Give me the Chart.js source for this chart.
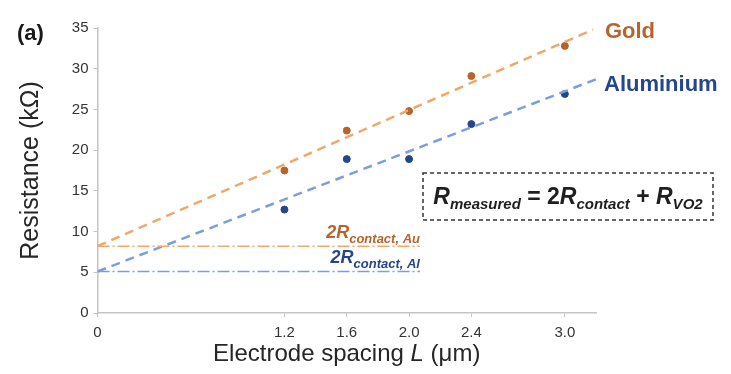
<!DOCTYPE html>
<html>
<head>
<meta charset="utf-8">
<script src="https://cdn.jsdelivr.net/npm/chart.js@4.4.1/dist/chart.umd.min.js"></script>
<style>
    html, body { margin: 0; padding: 0; background: #fff; }
</style>
</head>
<body>
<canvas id="graficoResistencia" width="731" height="374"></canvas>
<script>
// valores
const spacing = [1.2, 1.6, 2.0, 2.4, 3.0];
const goldValues = [17.5, 22.4, 24.8, 29.1, 32.8];
const aluminiumValues = [12.7, 18.9, 18.9, 23.2, 26.9];

// retas de ajuste (início e fim)
const goldFitX = [0, 3.18];
const goldFitY = [8.2, 34.8];
const aluminiumFitX = [0, 3.2];
const aluminiumFitY = [5.1, 28.7];

// 2R contact
const contactX = [0, 2.07];
const contactAu = [8.2, 8.2];
const contactAl = [5.1, 5.1];

const xTicks = [0, 1.2, 1.6, 2.0, 2.4, 3.0];
const xTickLabels = ['0', '1.2', '1.6', '2.0', '2.4', '3.0'];

const FONT = "'Liberation Sans', Arial, sans-serif";
const GOLD_DARK = '#b8632c';
const GOLD_LIGHT = '#f2a76a';
const AL_DARK = '#25468c';
const AL_LIGHT = '#7a9fe0';

function toPoints(xs, ys) {
    return xs.map((x, i) => ({ x: x, y: ys[i] }));
}

function drawRich(ctx, x, y, parts, align) {
    let total = 0;
    parts.forEach(p => {
        ctx.font = p.f;
        total += ctx.measureText(p.t).width;
    });
    let cx = x;
    if (align === 'right') cx = x - total;
    if (align === 'center') cx = x - total / 2;
    ctx.textAlign = 'left';
    ctx.textBaseline = 'alphabetic';
    parts.forEach(p => {
        ctx.font = p.f;
        ctx.fillText(p.t, cx, y + (p.dy || 0));
        cx += ctx.measureText(p.t).width;
    });
}

const anotacoes = {
    id: 'anotacoes',
    afterDraw(chart) {
        const ctx = chart.ctx;
        const xs = chart.scales.x;
        const ys = chart.scales.y;
        const area = chart.chartArea;
        ctx.save();

        // (a)
        ctx.fillStyle = '#1a1a1a';
        ctx.font = 'bold 22px ' + FONT;
        ctx.textAlign = 'left';
        ctx.fillText('(a)', 17, 40);

        // nomes das séries
        ctx.font = 'bold 22px ' + FONT;
        ctx.fillStyle = GOLD_DARK;
        ctx.fillText('Gold', xs.getPixelForValue(goldFitX[1]) + 12, ys.getPixelForValue(goldFitY[1]) + 8);
        ctx.fillStyle = AL_DARK;
        ctx.fillText('Aluminium', xs.getPixelForValue(aluminiumFitX[1]) + 8, ys.getPixelForValue(aluminiumFitY[1]) + 12);

        // 2R contact
        const endX = xs.getPixelForValue(contactX[1]);
        ctx.fillStyle = GOLD_DARK;
        drawRich(ctx, endX, ys.getPixelForValue(contactAu[0]) - 8, [
            { t: '2R', f: 'italic bold 18px ' + FONT },
            { t: 'contact, Au', f: 'italic bold 13px ' + FONT, dy: 5 }
        ], 'right');
        ctx.fillStyle = AL_DARK;
        drawRich(ctx, endX, ys.getPixelForValue(contactAl[0]) - 8, [
            { t: '2R', f: 'italic bold 18px ' + FONT },
            { t: 'contact, Al', f: 'italic bold 13px ' + FONT, dy: 5 }
        ], 'right');

        // caixa da equação
        ctx.strokeStyle = '#333';
        ctx.lineWidth = 1.5;
        ctx.setLineDash([4, 3]);
        ctx.strokeRect(423, 173, 290, 47);
        ctx.setLineDash([]);
        ctx.fillStyle = '#1f1f1f';
        drawRich(ctx, 568, 204, [
            { t: 'R', f: 'italic bold 23px ' + FONT },
            { t: 'measured', f: 'italic bold 15px ' + FONT, dy: 5 },
            { t: ' = 2', f: 'bold 23px ' + FONT },
            { t: 'R', f: 'italic bold 23px ' + FONT },
            { t: 'contact', f: 'italic bold 15px ' + FONT, dy: 5 },
            { t: ' + ', f: 'bold 23px ' + FONT },
            { t: 'R', f: 'italic bold 23px ' + FONT },
            { t: 'VO2', f: 'italic bold 15px ' + FONT, dy: 5 }
        ], 'center');

        // título do eixo x
        ctx.fillStyle = '#262626';
        drawRich(ctx, (area.left + area.right) / 2, 361, [
            { t: 'Electrode spacing ', f: '24px ' + FONT },
            { t: 'L', f: 'italic 24px ' + FONT },
            { t: ' (μm)', f: '24px ' + FONT }
        ], 'center');

        ctx.restore();
    }
};

const ctx = document.getElementById('graficoResistencia').getContext('2d');
new Chart(ctx, {
    type: 'scatter',
    data: {
        datasets: [
            {
                data: toPoints(contactX, contactAu),
                showLine: true,
                borderColor: GOLD_LIGHT,
                borderWidth: 1.5,
                borderDash: [12, 3, 2, 3],
                pointRadius: 0
            },
            {
                data: toPoints(contactX, contactAl),
                showLine: true,
                borderColor: AL_LIGHT,
                borderWidth: 1.5,
                borderDash: [12, 3, 2, 3],
                pointRadius: 0
            },
            {
                data: toPoints(goldFitX, goldFitY),
                showLine: true,
                borderColor: GOLD_LIGHT,
                borderWidth: 2.5,
                borderDash: [9, 6],
                pointRadius: 0
            },
            {
                data: toPoints(aluminiumFitX, aluminiumFitY),
                showLine: true,
                borderColor: AL_LIGHT,
                borderWidth: 2.5,
                borderDash: [9, 6],
                pointRadius: 0
            },
            {
                label: 'Gold',
                data: toPoints(spacing, goldValues),
                backgroundColor: GOLD_DARK,
                borderColor: GOLD_DARK,
                pointRadius: 3.5
            },
            {
                label: 'Aluminium',
                data: toPoints(spacing, aluminiumValues),
                backgroundColor: AL_DARK,
                borderColor: AL_DARK,
                pointRadius: 3.5
            }
        ]
    },
    options: {
        responsive: false,
        animation: false,
        layout: {
            padding: { top: 28, right: 135, bottom: 0, left: 0 }
        },
        plugins: {
            legend: { display: false },
            tooltip: { enabled: false }
        },
        scales: {
            x: {
                type: 'linear',
                min: 0,
                max: 3.2,
                afterBuildTicks: scale => {
                    scale.ticks = xTicks.map(v => ({ value: v }));
                },
                afterFit: scale => {
                    scale.height = 61;
                },
                ticks: {
                    callback: (value, index) => xTickLabels[index],
                    color: '#333',
                    font: { size: 15, family: FONT },
                    padding: 7,
                    maxRotation: 0,
                    autoSkip: false
                },
                grid: {
                    drawOnChartArea: false,
                    tickLength: 4,
                    color: '#c4c4c4'
                },
                border: { color: '#c4c4c4', width: 1.5 }
            },
            y: {
                min: 0,
                max: 35,
                afterFit: scale => {
                    scale.width = 97.5;
                },
                ticks: {
                    stepSize: 5,
                    color: '#333',
                    font: { size: 15, family: FONT },
                    padding: 5
                },
                grid: {
                    drawOnChartArea: false,
                    tickLength: 4,
                    color: '#c4c4c4'
                },
                border: { color: '#c4c4c4', width: 1.5 },
                title: {
                    display: true,
                    text: 'Resistance (kΩ)',
                    color: '#262626',
                    font: { size: 25, family: FONT },
                    padding: { top: 16, bottom: 0 }
                }
            }
        }
    },
    plugins: [anotacoes]
});
</script>
</body>
</html>
